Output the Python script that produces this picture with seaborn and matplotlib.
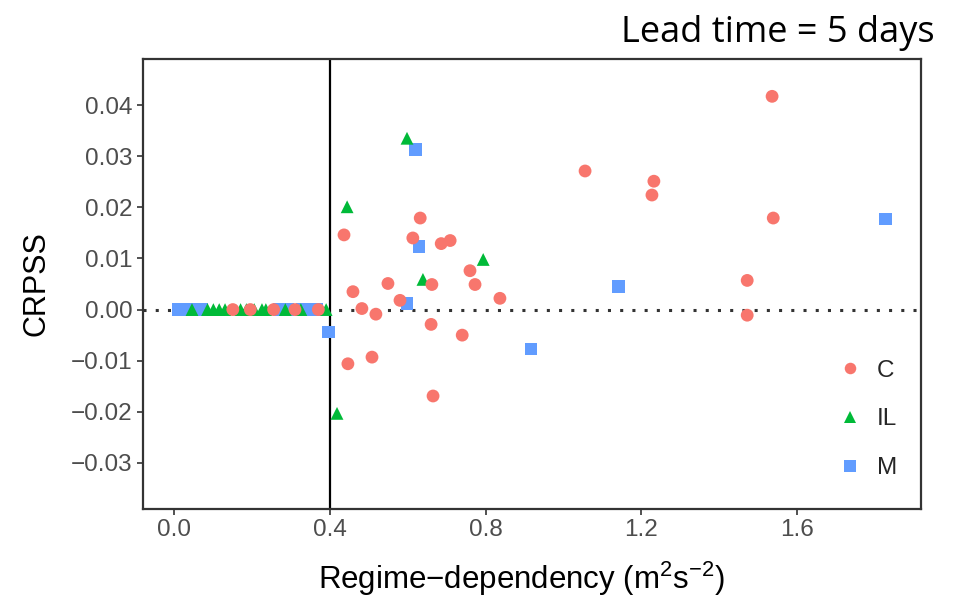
import numpy as np
import pandas as pd
import matplotlib
matplotlib.use("Agg")
import matplotlib.pyplot as plt
import seaborn as sns

# ---- data ----
c_x = [1.537, 1.056, 1.233, 1.228, 1.540, 1.473, 1.473, 0.436, 0.632, 0.613,
       0.686, 0.709, 0.760, 0.773, 0.662, 0.549, 0.459, 0.580, 0.837, 0.482,
       0.518, 0.660, 0.740, 0.508, 0.446, 0.665,
       0.150, 0.195, 0.255, 0.310, 0.370]
c_y = [0.0417, 0.0271, 0.0251, 0.0224, 0.0179, 0.0057, -0.0011, 0.0146, 0.0179, 0.0140,
       0.0129, 0.0135, 0.0076, 0.0049, 0.0049, 0.0051, 0.0035, 0.0018, 0.0022, 0.0002,
       -0.0009, -0.0029, -0.0050, -0.0093, -0.0106, -0.0169,
       0.0, 0.0, 0.0, 0.0, 0.0]

il_x = [0.598, 0.444, 0.794, 0.639, 0.418,
        0.045, 0.085, 0.100, 0.115, 0.130, 0.170, 0.185, 0.205, 0.225, 0.235,
        0.285, 0.325, 0.390]
il_y = [0.0335, 0.0201, 0.0098, 0.0059, -0.0203,
        0.0, 0.0, 0.0, 0.0, 0.0, 0.0, 0.0, 0.0, 0.0, 0.0,
        0.0, 0.0, 0.0]

m_x = [0.619, 0.629, 0.598, 0.917, 0.397, 1.829, 1.141,
       0.010, 0.020, 0.035, 0.055, 0.070, 0.270, 0.290, 0.330, 0.350, 0.365]
m_y = [0.0313, 0.0123, 0.0012, -0.0077, -0.0044, 0.0177, 0.0045,
       0.0, 0.0, 0.0, 0.0, 0.0, 0.0, 0.0, 0.0, 0.0, 0.0]

groups = ["C", "IL", "M"]
x_ticks = [0.0, 0.4, 0.8, 1.2, 1.6]
x_tick_labels = ["0.0", "0.4", "0.8", "1.2", "1.6"]
y_ticks = [0.04, 0.03, 0.02, 0.01, 0.00, -0.01, -0.02, -0.03]
y_tick_labels = ["0.04", "0.03", "0.02", "0.01", "0.00", "\u22120.01", "\u22120.02", "\u22120.03"]
threshold = 0.4

df = pd.concat([
    pd.DataFrame({"x": m_x, "y": m_y, "g": "M"}),
    pd.DataFrame({"x": il_x, "y": il_y, "g": "IL"}),
    pd.DataFrame({"x": c_x, "y": c_y, "g": "C"}),
], ignore_index=True)

# ---- style ----
sns.set_theme(style="white")
plt.rcParams["font.family"] = ["Liberation Sans", "DejaVu Sans"]
plt.rcParams["mathtext.fontset"] = "custom"
plt.rcParams["mathtext.rm"] = "Liberation Sans"
plt.rcParams["mathtext.it"] = "Liberation Sans:italic"
plt.rcParams["mathtext.default"] = "regular"

palette = {"C": "#F8766D", "IL": "#00BA38", "M": "#619CFF"}
markers = {"C": "o", "IL": "^", "M": "s"}

fig = plt.figure(figsize=(9.56, 5.98), dpi=100)
ax = fig.add_axes([143 / 956, 1 - 509 / 598, (921 - 143) / 956, (509 - 59) / 598])

ax.axhline(0, color="#333333", lw=2.2, ls=(0, (1, 3)), zorder=1)
ax.axvline(threshold, color="black", lw=1.6, zorder=1)

sns.scatterplot(data=df, x="x", y="y", hue="g", style="g", hue_order=groups,
                style_order=groups, palette=palette, markers=markers,
                s=85, linewidth=0, ax=ax, zorder=3)

ax.set_xlim(-0.081, 1.920)
ax.set_ylim(-0.039, 0.049)
ax.set_xticks(x_ticks)
ax.set_xticklabels(x_tick_labels)
ax.set_yticks(y_ticks)
ax.set_yticklabels(y_tick_labels)
ax.tick_params(axis="both", which="major", length=4.5, width=1.2, color="#333333",
               labelsize=17.5, labelcolor="#4D4D4D", pad=3,
               bottom=True, left=True)
for sp in ax.spines.values():
    sp.set_visible(True)
    sp.set_color("#333333")
    sp.set_linewidth(1.6)

ax.set_xlabel("Regime\u2212dependency (m$^{2}$s$^{-2}$)", fontsize=22.5, color="black")
ax.xaxis.set_label_coords(0.487, -0.112)
ax.set_ylabel("CRPSS", fontsize=22, color="black", labelpad=14)

handles, labels = ax.get_legend_handles_labels()
ax.legend(handles, labels, loc="upper left", bbox_to_anchor=(0.893, 0.332),
          frameon=False, fontsize=17.5, handlelength=1.0, handletextpad=0.6,
          labelspacing=1.1, borderaxespad=0, borderpad=0, markerscale=0.9)

fig.text(0.978, 0.93, "Lead time = 5 days", ha="right", va="baseline",
         fontsize=26, family=["Open Sans", "DejaVu Sans"], color="black")

fig.savefig("out.png", dpi=100)
